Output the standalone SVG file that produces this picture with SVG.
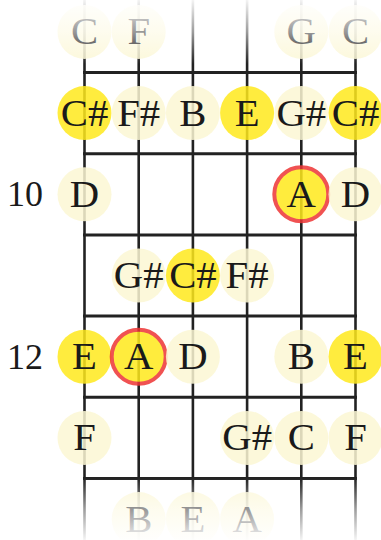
<svg xmlns="http://www.w3.org/2000/svg" width="381" height="540" viewBox="0 0 381 540">
<style>
.str{stroke:#222;stroke-width:2.6;fill:none}
.fret{stroke:#222;stroke-width:3;fill:none;stroke-linecap:square}
.pale{fill:#fcf7d4;opacity:0.85}
.hi{fill:#ffe91c;opacity:0.85}
.root{fill:#ffe91c;stroke:#ee3535;stroke-width:4;opacity:0.85}
.lbl{font-family:"Liberation Serif","Times New Roman",serif;font-size:37px;fill:#1a1a1a;text-anchor:middle}
.num{font-family:"Liberation Serif","Times New Roman",serif;font-size:36px;fill:#1a1a1a;text-anchor:end}
</style>
<defs>
<linearGradient id="fadeTop" x1="0" y1="0" x2="0" y2="1">
<stop offset="0" stop-color="#fff" stop-opacity="0.95"/>
<stop offset="0.5" stop-color="#fff" stop-opacity="0.55"/>
<stop offset="1" stop-color="#fff" stop-opacity="0"/>
</linearGradient>
<linearGradient id="fadeBot" x1="0" y1="0" x2="0" y2="1">
<stop offset="0" stop-color="#fff" stop-opacity="0"/>
<stop offset="0.5" stop-color="#fff" stop-opacity="0.55"/>
<stop offset="1" stop-color="#fff" stop-opacity="0.95"/>
</linearGradient>
</defs>
<rect width="381" height="540" fill="#fff"/>
<g id="fretboard">
<line class="str" x1="84.5" y1="0" x2="84.5" y2="540"/>
<line class="str" x1="138.7" y1="0" x2="138.7" y2="540"/>
<line class="str" x1="192.9" y1="0" x2="192.9" y2="540"/>
<line class="str" x1="247.1" y1="0" x2="247.1" y2="540"/>
<line class="str" x1="301.3" y1="0" x2="301.3" y2="540"/>
<line class="str" x1="355.5" y1="0" x2="355.5" y2="540"/>
<line class="fret" x1="84.5" y1="72.5" x2="355.5" y2="72.5"/>
<line class="fret" x1="84.5" y1="153.7" x2="355.5" y2="153.7"/>
<line class="fret" x1="84.5" y1="234.9" x2="355.5" y2="234.9"/>
<line class="fret" x1="84.5" y1="316.1" x2="355.5" y2="316.1"/>
<line class="fret" x1="84.5" y1="397.3" x2="355.5" y2="397.3"/>
<line class="fret" x1="84.5" y1="478.5" x2="355.5" y2="478.5"/>
</g>
<g id="fret-numbers">
<text class="num" x="43" y="206">10</text>
<text class="num" x="43" y="368.5">12</text>
</g>
<!-- row 0 -->
<g id="n-r0-s0"><circle class="pale" cx="84.5" cy="31.9" r="27"/><text class="lbl" transform="translate(84.5,44.4) scale(1.1,1)">C</text></g>
<g id="n-r0-s1"><circle class="pale" cx="138.7" cy="31.9" r="27"/><text class="lbl" transform="translate(138.7,44.4) scale(1.1,1)">F</text></g>
<g id="n-r0-s4"><circle class="pale" cx="301.3" cy="31.9" r="27"/><text class="lbl" transform="translate(301.3,44.4) scale(1.1,1)">G</text></g>
<g id="n-r0-s5"><circle class="pale" cx="355.5" cy="31.9" r="27"/><text class="lbl" transform="translate(355.5,44.4) scale(1.1,1)">C</text></g>
<!-- row 1 -->
<g id="n-r1-s0"><circle class="hi" cx="84.5" cy="113.1" r="27"/><text class="lbl" transform="translate(84.5,125.6) scale(1.1,1)">C#</text></g>
<g id="n-r1-s1"><circle class="pale" cx="138.7" cy="113.1" r="27"/><text class="lbl" transform="translate(138.7,125.6) scale(1.1,1)">F#</text></g>
<g id="n-r1-s2"><circle class="pale" cx="192.9" cy="113.1" r="27"/><text class="lbl" transform="translate(192.9,125.6) scale(1.1,1)">B</text></g>
<g id="n-r1-s3"><circle class="hi" cx="247.1" cy="113.1" r="27"/><text class="lbl" transform="translate(247.1,125.6) scale(1.1,1)">E</text></g>
<g id="n-r1-s4"><circle class="pale" cx="301.3" cy="113.1" r="27"/><text class="lbl" transform="translate(301.3,125.6) scale(1.1,1)">G#</text></g>
<g id="n-r1-s5"><circle class="hi" cx="355.5" cy="113.1" r="27"/><text class="lbl" transform="translate(355.5,125.6) scale(1.1,1)">C#</text></g>
<!-- row 2 (fret 10) -->
<g id="n-r2-s0"><circle class="pale" cx="84.5" cy="194.3" r="27"/><text class="lbl" transform="translate(84.5,206.8) scale(1.1,1)">D</text></g>
<g id="n-r2-s4"><circle class="root" cx="301.3" cy="194.3" r="27"/><text class="lbl" transform="translate(301.3,206.8) scale(1.1,1)">A</text></g>
<g id="n-r2-s5"><circle class="pale" cx="355.5" cy="194.3" r="27"/><text class="lbl" transform="translate(355.5,206.8) scale(1.1,1)">D</text></g>
<!-- row 3 -->
<g id="n-r3-s1"><circle class="pale" cx="138.7" cy="275.5" r="27"/><text class="lbl" transform="translate(138.7,288) scale(1.1,1)">G#</text></g>
<g id="n-r3-s2"><circle class="hi" cx="192.9" cy="275.5" r="27"/><text class="lbl" transform="translate(192.9,288) scale(1.1,1)">C#</text></g>
<g id="n-r3-s3"><circle class="pale" cx="247.1" cy="275.5" r="27"/><text class="lbl" transform="translate(247.1,288) scale(1.1,1)">F#</text></g>
<!-- row 4 (fret 12) -->
<g id="n-r4-s0"><circle class="hi" cx="84.5" cy="356.7" r="27"/><text class="lbl" transform="translate(84.5,369.2) scale(1.1,1)">E</text></g>
<g id="n-r4-s1"><circle class="root" cx="138.7" cy="356.7" r="27"/><text class="lbl" transform="translate(138.7,369.2) scale(1.1,1)">A</text></g>
<g id="n-r4-s2"><circle class="pale" cx="192.9" cy="356.7" r="27"/><text class="lbl" transform="translate(192.9,369.2) scale(1.1,1)">D</text></g>
<g id="n-r4-s4"><circle class="pale" cx="301.3" cy="356.7" r="27"/><text class="lbl" transform="translate(301.3,369.2) scale(1.1,1)">B</text></g>
<g id="n-r4-s5"><circle class="hi" cx="355.5" cy="356.7" r="27"/><text class="lbl" transform="translate(355.5,369.2) scale(1.1,1)">E</text></g>
<!-- row 5 -->
<g id="n-r5-s0"><circle class="pale" cx="84.5" cy="437.9" r="27"/><text class="lbl" transform="translate(84.5,450.4) scale(1.1,1)">F</text></g>
<g id="n-r5-s3"><circle class="pale" cx="247.1" cy="437.9" r="27"/><text class="lbl" transform="translate(247.1,450.4) scale(1.1,1)">G#</text></g>
<g id="n-r5-s4"><circle class="pale" cx="301.3" cy="437.9" r="27"/><text class="lbl" transform="translate(301.3,450.4) scale(1.1,1)">C</text></g>
<g id="n-r5-s5"><circle class="pale" cx="355.5" cy="437.9" r="27"/><text class="lbl" transform="translate(355.5,450.4) scale(1.1,1)">F</text></g>
<!-- row 6 -->
<g id="n-r6-s1"><circle class="pale" cx="138.7" cy="519.1" r="27"/><text class="lbl" transform="translate(138.7,531.6) scale(1.1,1)">B</text></g>
<g id="n-r6-s2"><circle class="pale" cx="192.9" cy="519.1" r="27"/><text class="lbl" transform="translate(192.9,531.6) scale(1.1,1)">E</text></g>
<g id="n-r6-s3"><circle class="pale" cx="247.1" cy="519.1" r="27"/><text class="lbl" transform="translate(247.1,531.6) scale(1.1,1)">A</text></g>
<g id="fades">
<rect x="0" y="0" width="381" height="64" fill="url(#fadeTop)"/>
<rect x="0" y="478" width="381" height="62" fill="url(#fadeBot)"/>
</g>
</svg>
